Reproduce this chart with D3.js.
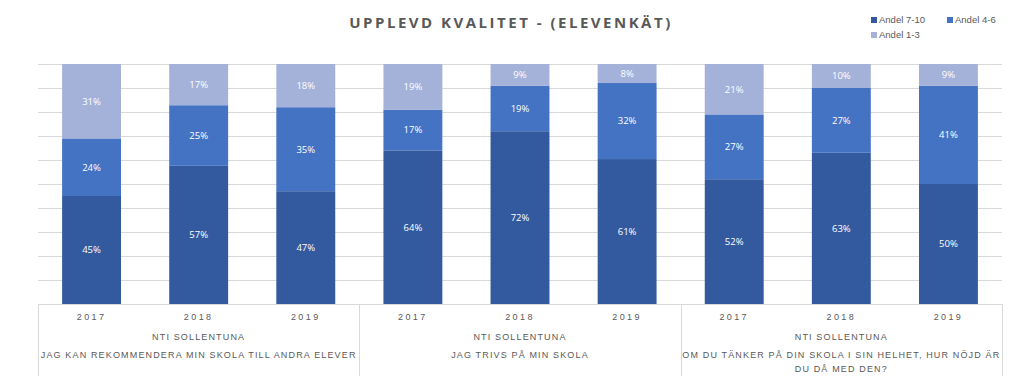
<!DOCTYPE html>
<html>
<head>
<meta charset="utf-8">
<script src="https://cdn.jsdelivr.net/npm/d3@7"></script>
<style>
  html, body { margin: 0; padding: 0; background: #fff; }
  svg { display: block; }
</style>
</head>
<body>
<svg id="chart" width="1024" height="376"></svg>
<script>
const years = ["2017", "2018", "2019"];
const groupLabel = "NTI SOLLENTUNA";
const questions = [
  ["JAG KAN REKOMMENDERA MIN SKOLA TILL ANDRA ELEVER"],
  ["JAG TRIVS PÅ MIN SKOLA"],
  ["OM DU TÄNKER PÅ DIN SKOLA I SIN HELHET, HUR NÖJD ÄR", "DU DÅ MED DEN?"]
];
const seriesNames = ["Andel 7-10", "Andel 4-6", "Andel 1-3"];
const andel7_10 = [45, 57, 47, 64, 72, 61, 52, 63, 50];
const andel4_6 = [24, 25, 35, 17, 19, 32, 27, 27, 41];
const andel1_3 = [31, 17, 18, 19, 9, 8, 21, 10, 9];
const yTicks = [0, 0.1, 0.2, 0.3, 0.4, 0.5, 0.6, 0.7, 0.8, 0.9, 1];

const colors = ["#335A9F", "#4573C4", "#A4B2DA"];
const textColor = "#595959";
const gridColor = "#d9d9d9";

const svg = d3.select("#chart");
const mLeft = 38, mRight = 1002, mTop = 64, mBottom = 304, H = 376;

const cats = d3.range(andel7_10.length).map(i => "c" + i);
const rows = cats.map((c, i) => ({ cat: c, "Andel 7-10": andel7_10[i], "Andel 4-6": andel4_6[i], "Andel 1-3": andel1_3[i] }));

const x = d3.scaleBand().domain(cats).range([mLeft, mRight]).paddingInner(0.45).paddingOuter(0.225);
const y = d3.scaleLinear().domain([0, 1]).range([mBottom, mTop]);

// grid
svg.append("g").selectAll("line").data(yTicks.slice(1)).join("line")
  .attr("x1", mLeft).attr("x2", mRight)
  .attr("y1", d => Math.round(y(d)) + 0.5).attr("y2", d => Math.round(y(d)) + 0.5)
  .attr("stroke", gridColor).attr("stroke-width", 1);

const stack = d3.stack().keys(seriesNames).offset(d3.stackOffsetExpand);
const stacked = stack(rows);

const g = svg.append("g");
stacked.forEach((layer, li) => {
  g.append("g").selectAll("rect").data(layer).join("rect")
    .attr("x", d => x(d.data.cat))
    .attr("width", x.bandwidth())
    .attr("y", d => y(d[1]))
    .attr("height", d => y(d[0]) - y(d[1]))
    .attr("fill", colors[li]);
});
stacked.forEach((layer, li) => {
  g.append("g").selectAll("text").data(layer).join("text")
    .attr("x", d => x(d.data.cat) + x.bandwidth() / 2)
    .attr("y", d => (y(d[0]) + y(d[1])) / 2)
    .attr("dy", "0.35em")
    .attr("text-anchor", "middle")
    .attr("font-family", "Open Sans, sans-serif")
    .attr("font-size", 9.5)
    .attr("fill", "#ffffff")
    .text(d => d.data[layer.key] + "%");
});

// category axis box
const ax = svg.append("g").attr("stroke", gridColor).attr("stroke-width", 1);
ax.append("line").attr("x1", mLeft).attr("x2", mRight).attr("y1", mBottom + 0.5).attr("y2", mBottom + 0.5);
const edges = [mLeft, mLeft + (mRight - mLeft) / 3, mLeft + 2 * (mRight - mLeft) / 3, mRight];
ax.selectAll("line.v").data(edges).join("line").attr("class", "v")
  .attr("x1", d => Math.round(d) + 0.5).attr("x2", d => Math.round(d) + 0.5)
  .attr("y1", mBottom).attr("y2", H);

const tx = svg.append("g").attr("font-family", "Liberation Sans, Arial, sans-serif")
  .attr("fill", textColor).attr("text-anchor", "middle").attr("font-size", 9).attr("letter-spacing", "1.15px");

tx.selectAll("text.yr").data(cats).join("text").attr("class", "yr")
  .attr("x", d => x(d) + x.bandwidth() / 2)
  .attr("y", 320)
  .attr("letter-spacing", "2.4px")
  .text((d, i) => years[i % 3]);

questions.forEach((q, gi) => {
  const cx = (edges[gi] + edges[gi + 1]) / 2;
  tx.append("text").attr("x", cx).attr("y", 340).text(groupLabel);
  q.forEach((line, li) => {
    tx.append("text").attr("x", cx).attr("y", 358 + li * 14).text(line);
  });
});

// title
svg.append("text")
  .attr("x", 511).attr("y", 28)
  .attr("text-anchor", "middle")
  .attr("font-family", "Open Sans, sans-serif")
  .attr("font-weight", "bold")
  .attr("font-size", 15)
  .attr("letter-spacing", "2.5px")
  .attr("fill", textColor)
  .text("UPPLEVD KVALITET - (ELEVENKÄT)");

// legend
const legendPos = [[871, 20], [947, 20], [871, 35]];
const lg = svg.append("g");
seriesNames.forEach((n, i) => {
  const [lx, ly] = legendPos[i];
  lg.append("rect").attr("x", lx).attr("y", ly - 3).attr("width", 6).attr("height", 6).attr("fill", colors[i]);
  lg.append("text").attr("x", lx + 8).attr("y", ly).attr("dy", "0.35em")
    .attr("font-family", "Liberation Sans, Arial, sans-serif").attr("font-size", 9.5)
    .attr("fill", textColor).text(n);
});
</script>
</body>
</html>
